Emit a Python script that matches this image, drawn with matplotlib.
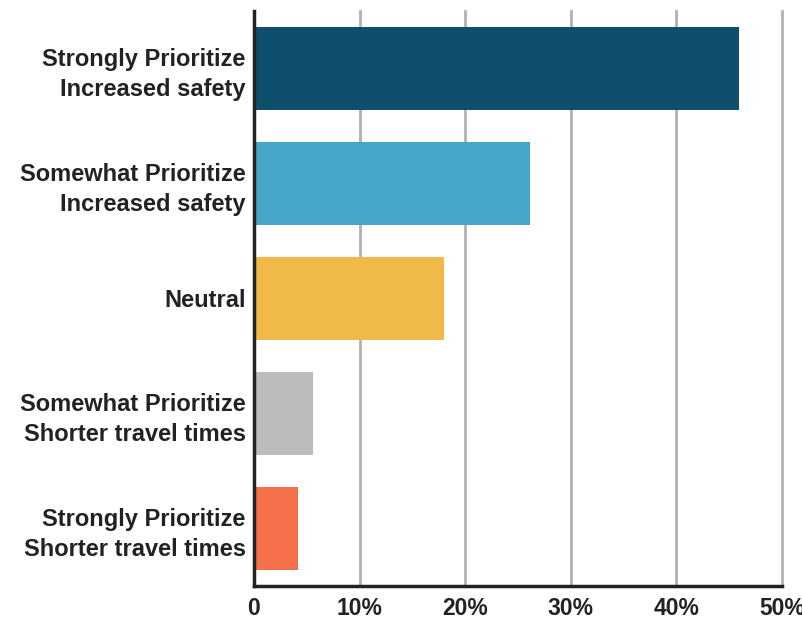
import matplotlib.pyplot as plt
from matplotlib.ticker import FuncFormatter

categories = [
    "Strongly Prioritize\nIncreased safety",
    "Somewhat Prioritize\nIncreased safety",
    "Neutral",
    "Somewhat Prioritize\nShorter travel times",
    "Strongly Prioritize\nShorter travel times",
]
values = [45.9, 26.1, 18.0, 5.6, 4.2]
colors = ["#0f4f6d", "#45a6c8", "#f0b94a", "#bdbcba", "#f3704b"]
xticks = [0, 10, 20, 30, 40, 50]

plt.rcParams['font.family'] = ['Liberation Sans', 'DejaVu Sans']

fig = plt.figure(figsize=(8.03, 6.21), dpi=100)
ax = fig.add_axes([0.3163, 0.0564, 0.9738 - 0.3163, 0.9823 - 0.0564])

y = list(range(len(categories)))
ax.barh(y, values, height=0.72, color=colors, zorder=3)

ax.set_xlim(0, 50)
ax.set_ylim(len(categories) - 0.5, -0.5)
ax.set_yticks(y)
ax.set_yticklabels(categories, fontsize=17, fontweight='bold', color='#222222',
                   linespacing=1.4)
ax.set_xticks(xticks)
ax.xaxis.set_major_formatter(FuncFormatter(lambda v, p: "0" if v == 0 else f"{v:.0f}%"))
for lab in ax.get_xticklabels():
    lab.set_fontsize(16.5)
    lab.set_fontweight('bold')
    lab.set_color('#222222')

ax.tick_params(axis='both', length=0)
ax.tick_params(axis='y', pad=6)
ax.tick_params(axis='x', pad=8)

ax.grid(axis='x', color='#b0b0b3', linewidth=2, zorder=0)
for gl in ax.xaxis.get_gridlines():
    gl.set_clip_on(False)
for s in ['top', 'right']:
    ax.spines[s].set_visible(False)
for s in ['left', 'bottom']:
    ax.spines[s].set_color('#222222')
    ax.spines[s].set_linewidth(2.5)
    ax.spines[s].set_zorder(4)

fig.savefig("out.png", dpi=100)
